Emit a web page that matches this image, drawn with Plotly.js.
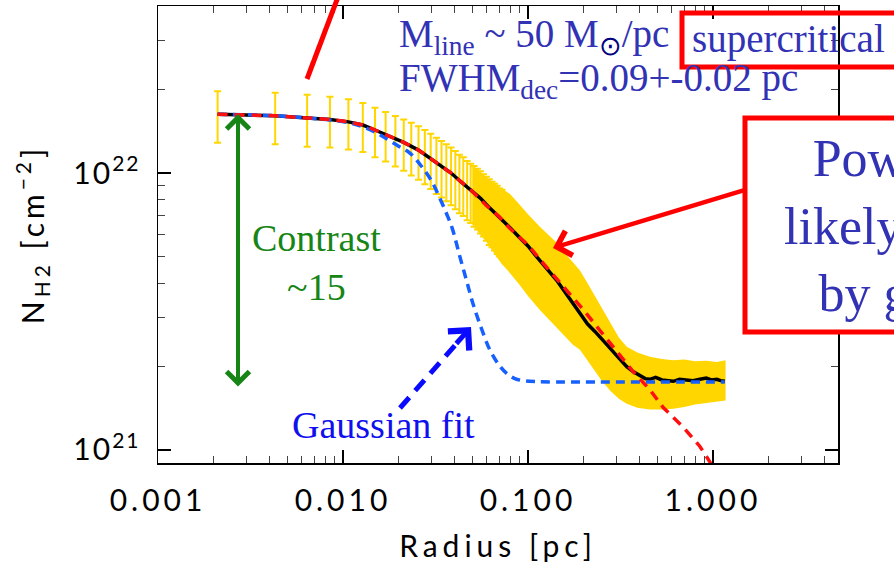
<!DOCTYPE html>
<html>
<head>
<meta charset="utf-8">
<script src="https://cdn.plot.ly/plotly-3.0.1.min.js"></script>
<style>
html,body{margin:0;padding:0;background:#fff;}
#chart{width:894px;height:566px;}
#chart .xtick text{letter-spacing:4px;}
#chart .ytick text{letter-spacing:2px;}
#chart text.xtitle{letter-spacing:5px;}
#chart text.ytitle{letter-spacing:4px;}
</style>
</head>
<body>
<div id="chart"></div>
<script>
// ---------- data (column density in units of 1e21 cm^-2) ----------
// discrete error bars (observed profile, inner part)
var rBar = [0.0021,0.0043,0.0064,0.0085,0.0107,0.0128,0.0149,0.0170,0.0192,0.0213,0.0234,0.0256,
            0.0277,0.0298,0.0320,0.0341,0.0362,0.0384,0.0405,0.0426,0.0447,0.0469,0.0490,0.0511,
            0.0533,0.0554,0.0575,0.0596,0.0618,0.0639,0.0660,0.0682,0.0703,0.0724];
var nBar = [16.3,16.1,15.8,15.6,15.3,14.9,14.3,13.8,13.3,12.9,12.5,12.1,
            11.7,11.3,10.9,10.6,10.3,10.0,9.7,9.4,9.2,8.9,8.7,8.5,
            8.3,8.1,7.9,7.7,7.5,7.35,7.2,7.05,6.9,6.8];
var eBar = [3.45,3.4,3.35,3.25,3.15,3.0,2.9,2.8,2.75,2.7,2.7,2.65,
            2.6,2.55,2.5,2.45,2.4,2.35,2.3,2.25,2.2,2.15,2.1,2.1,
            2.05,2.05,2.0,2.0,2.0,1.95,1.95,1.95,1.9,1.9];
// dense part of the error bars (upper / lower envelope)
var rBand  = [0.050,0.060,0.072,0.080,0.090,0.100,0.116,0.130,0.143,0.160,0.175,0.191,0.210,0.230,
              0.250,0.280,0.310,0.342,0.390,0.456,0.530,0.610,0.700,0.800,0.920,1.050,1.170];
var bandHi = [10.7,9.6,8.8,8.4,7.7,7.1,6.4,5.95,5.6,5.1,4.75,4.45,4.0,3.6,
              3.25,2.85,2.55,2.36,2.25,2.17,2.13,2.11,2.12,2.09,2.10,2.08,2.11];
var bandLo = [6.5,5.6,4.7,4.35,3.95,3.6,3.2,2.95,2.75,2.55,2.4,2.3,2.1,1.92,
              1.78,1.63,1.53,1.47,1.42,1.40,1.40,1.41,1.43,1.46,1.48,1.50,1.51];
// observed mean profile (black line)
var rObs = [0.0021,0.0043,0.0064,0.0085,0.0107,0.0128,0.0149,0.0170,0.0192,0.0213,0.0256,0.0298,
            0.0341,0.0384,0.0426,0.0490,0.0554,0.0618,0.0682,0.0724,0.080,0.090,0.100,0.111,0.120,
            0.130,0.143,0.155,0.169,0.180,0.191,0.210,0.230,0.245,0.270,0.300,0.342,0.370,0.400,
            0.430,0.456,0.490,0.530,0.570,0.610,0.660,0.720,0.780,0.850,0.920,0.980,1.050,1.100,1.160];
var nObs = [16.3,16.1,15.8,15.6,15.3,14.9,14.3,13.8,13.3,12.9,12.1,11.3,
            10.6,10.0,9.4,8.7,8.1,7.5,7.05,6.8,6.35,5.85,5.45,5.0,4.7,
            4.45,4.1,3.8,3.5,3.3,3.12,2.85,2.68,2.55,2.38,2.2,2.0,1.92,1.86,
            1.81,1.80,1.83,1.79,1.78,1.77,1.80,1.79,1.78,1.80,1.82,1.79,1.80,1.78,1.77];
// Gaussian fit (blue dashed)
var rGau = [0.0021,0.0043,0.0064,0.0085,0.0107,0.0128,0.015,0.0172,0.020,0.023,0.0265,0.030,0.0334,
            0.0364,0.039,0.0428,0.0465,0.0506,0.056,0.0622,0.070,0.0767,0.085,0.094,0.110,0.200,1.160];
var nGau = [16.3,16.1,15.8,15.55,15.2,14.7,14.0,13.3,12.5,11.8,10.6,9.4,8.1,
            7.1,6.3,5.0,4.1,3.35,2.75,2.3,2.02,1.89,1.81,1.78,1.765,1.76,1.76];
// Plummer-like fit (red dashed)
var rPlu = [0.0021,0.0043,0.0064,0.0085,0.0107,0.0128,0.0149,0.0170,0.0213,0.0256,0.0298,0.0341,0.0384,
            0.0426,0.049,0.060,0.070,0.080,0.100,0.120,0.143,0.170,0.200,0.245,0.300,0.370,0.456,
            0.540,0.690,0.850,0.960,1.000];
var nPlu = [16.3,16.1,15.8,15.6,15.3,14.9,14.3,13.8,12.9,12.1,11.3,10.6,10.0,
            9.4,8.7,7.6,6.95,6.3,5.5,4.75,4.15,3.6,3.2,2.7,2.28,1.92,1.65,
            1.42,1.21,1.03,0.908,0.87];
// axis ticks
var xTickVals = [0.001,0.01,0.1,1];
var xTickText = ['0.001','0.010','0.100','1.000'];
var yTickVals = [1e21,1e22];
var yTickText = ['10<sup>21</sup>','10<sup>22</sup>'];

function sc(a){ return a.map(function(v){ return v*1e21; }); }

// ---------- layout helpers (pixel -> paper) ----------
var L=158, R=838, T=6, B=463;
function px(x){ return (x-L)/(R-L); }
function py(y){ return (B-y)/(B-T); }

var gold = '#FFD600';
var traces = [
  {x:rBand, y:sc(bandLo), mode:'lines', line:{width:0,color:gold}, hoverinfo:'skip', showlegend:false},
  {x:rBand, y:sc(bandHi), mode:'lines', line:{width:0,color:gold}, fill:'tonexty', fillcolor:gold, hoverinfo:'skip', showlegend:false},
  {x:rBar, y:sc(nBar), mode:'markers', marker:{size:1,color:gold,opacity:0}, showlegend:false,
   error_y:{type:'data', array:sc(eBar), color:gold, thickness:2, width:3.5}},
  {x:rObs, y:sc(nObs), mode:'lines', line:{color:'#000000', width:3.5}, showlegend:false},
  {x:rGau, y:sc(nGau), mode:'lines', line:{color:'#1560ff', width:3.5, dash:'9px,6px', shape:'spline'}, showlegend:false},
  {x:rPlu, y:sc(nPlu), mode:'lines', line:{color:'#ff1010', width:3.5, dash:'10px,7px'}, showlegend:false}
];

var axFont = {family:'Lato, Open Sans, sans-serif', weight:400, size:30, color:'#000'};
var blueTxt = '#3232b4';
var serif = 'Liberation Serif, Times New Roman, serif';

var layout = {
  width:894, height:566,
  margin:{l:L, r:894-R, t:T, b:566-B},
  paper_bgcolor:'#fff', plot_bgcolor:'#fff',
  showlegend:false,
  xaxis:{type:'log', range:[-3,0.676], showgrid:false, zeroline:false,
         showline:true, linecolor:'#000', linewidth:1.5, mirror:'ticks',
         ticks:'inside', ticklen:13, tickwidth:1.5, tickcolor:'#000',
         tickmode:'array', tickvals:xTickVals, ticktext:xTickText,
         tickfont:axFont, ticklabelstandoff:10,
         minor:{ticks:'inside', ticklen:7, tickwidth:1, tickcolor:'#444', dtick:'D1', showgrid:false},
         title:{text:'Radius [pc]', font:axFont, standoff:20}},
  yaxis:{type:'log', range:[20.953,22.603], showgrid:false, zeroline:false,
         showline:true, linecolor:'#000', linewidth:1.5, mirror:'ticks',
         ticks:'inside', ticklen:13, tickwidth:1.5, tickcolor:'#000',
         tickmode:'array', tickvals:yTickVals, ticktext:yTickText,
         tickfont:axFont, ticklabelstandoff:10,
         minor:{ticks:'inside', ticklen:7, tickwidth:1, tickcolor:'#444', dtick:'D1', showgrid:false},
         title:{text:'N<sub>H2</sub> [cm<sup>−2</sup>]', font:axFont, standoff:28}},
  shapes:[
    {type:'line', xref:'paper', yref:'paper', x0:px(338), y0:py(-3), x1:px(307), y1:py(79), line:{color:'#ff0000', width:5}, layer:'above'},
    {type:'rect', xref:'paper', yref:'paper', x0:px(682), y0:py(67), x1:px(1000), y1:py(13), line:{color:'#ff0000', width:5}, fillcolor:'rgba(0,0,0,0)', layer:'above'},
    {type:'rect', xref:'paper', yref:'paper', x0:px(745), y0:py(332), x1:px(1150), y1:py(118), line:{color:'#ff0000', width:5}, fillcolor:'#ffffff', layer:'above'},
    {type:'line', xref:'paper', yref:'paper', x0:px(400), y0:py(408), x1:px(458), y1:py(342), line:{color:'#0a0aff', width:5, dash:'14px,9px'}, layer:'above'}
  ],
  annotations:[
    {xref:'paper', yref:'paper', x:px(397), y:py(36), xanchor:'left', yanchor:'middle', showarrow:false,
     text:'M<sub>line</sub> ~ 50 M<sub><span style="color:#000080">⊙</span></sub>/pc', font:{family:serif, size:39, color:blueTxt}},
    {xref:'paper', yref:'paper', x:px(690), y:py(39), xanchor:'left', yanchor:'middle', showarrow:false,
     text:'supercritical', font:{family:serif, size:39, color:blueTxt}},
    {xref:'paper', yref:'paper', x:px(397), y:py(80), xanchor:'left', yanchor:'middle', showarrow:false,
     text:'FWHM<sub>dec</sub>=0.09+-0.02 pc', font:{family:serif, size:39, color:blueTxt}},
    {xref:'paper', yref:'paper', x:px(925), y:py(226), xanchor:'center', yanchor:'middle', showarrow:false, align:'center',
     text:'Power-law<br>likely created<br>by gravity', font:{family:serif, size:52, color:blueTxt}},
    {xref:'paper', yref:'paper', x:px(316), y:py(262), xanchor:'center', yanchor:'middle', showarrow:false, align:'center',
     text:'Contrast<br>~15', font:{family:serif, size:38, color:'#168516'}},
    {xref:'paper', yref:'paper', x:px(383), y:py(425), xanchor:'center', yanchor:'middle', showarrow:false,
     text:'Gaussian fit', font:{family:serif, size:38, color:'#1010ee'}},
    // green double arrow
    {xref:'paper', yref:'paper', x:px(238), y:py(114), ax:0, ay:274, text:'', showarrow:true,
     arrowhead:4, startarrowhead:4, arrowside:'end+start', arrowsize:1.1, startarrowsize:1.1, arrowwidth:4, arrowcolor:'#168516'},
    // red arrow from box
    {xref:'paper', yref:'paper', x:px(553), y:py(248), ax:192, ay:-58, text:'', showarrow:true,
     arrowhead:4, arrowsize:1.1, arrowwidth:4.5, arrowcolor:'#ff0000'},
    // blue arrow head
    {xref:'paper', yref:'paper', x:px(471), y:py(327), ax:-16, ay:18, text:'', showarrow:true,
     arrowhead:4, arrowsize:1.1, arrowwidth:5, arrowcolor:'#0a0aff'}
  ]
};

Plotly.newPlot('chart', traces, layout, {staticPlot:true, displayModeBar:false});
</script>
</body>
</html>
